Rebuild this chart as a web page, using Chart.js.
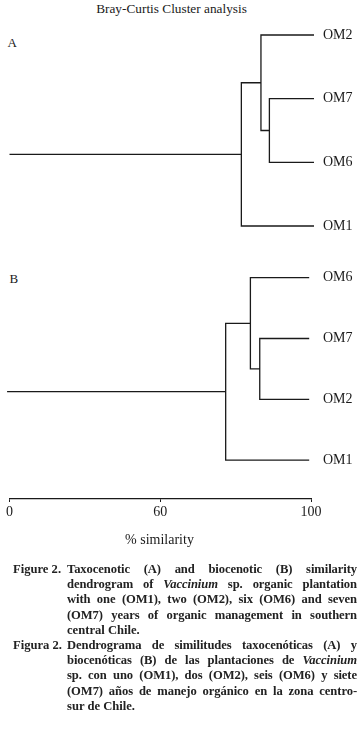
<!DOCTYPE html>
<html>
<head>
<meta charset="utf-8">
<script src="https://cdn.jsdelivr.net/npm/chart.js@4.4.0/dist/chart.umd.min.js"></script>
<style>
  html, body { margin: 0; padding: 0; background: #fff; }
  body { width: 360px; height: 729px; position: relative; overflow: hidden;
         font-family: "Liberation Serif", "DejaVu Serif", serif; color: #1a1a1a; }
  .abs { position: absolute; }
  #title { left: 0; width: 343px; top: 1px; text-align: center; font-size: 13.3px; line-height: 16px; }
  .panel { font-size: 13px; line-height: 16px; }
  #xtitle { left: 0; width: 319px; top: 531px; text-align: center; font-size: 14px; line-height: 17px; }
  #canvasA { left: 0; top: 0; }
  #canvasB { left: 0; top: 240px; }
  #caption { left: 0; top: 562px; width: 360px; font-weight: bold; font-size: 12.6px; line-height: 15.2px; color: #222; }
  .para { position: relative; padding-left: 67px; width: 290px; }
  .para .lab { position: absolute; left: 13px; top: 0; }
  .ln { text-align: justify; text-align-last: justify; white-space: normal; }
  .ln.last { text-align-last: left; }
</style>
</head>
<body>
<div id="title" class="abs">Bray-Curtis Cluster analysis</div>
<div class="abs panel" style="left:7.5px; top:35px;">A</div>
<div class="abs panel" style="left:9.5px; top:271px;">B</div>
<canvas id="canvasA" class="abs" width="360" height="250"></canvas>
<canvas id="canvasB" class="abs" width="360" height="290"></canvas>
<div id="xtitle" class="abs"></div>

<div id="caption" class="abs">
  <div class="para">
    <span class="lab">Figure 2.</span>
    <div class="ln">Taxocenotic (A) and biocenotic (B) similarity</div>
    <div class="ln">dendrogram of <i>Vaccinium</i> sp. organic plantation</div>
    <div class="ln">with one (OM1), two (OM2), six (OM6) and seven</div>
    <div class="ln">(OM7) years of organic management in southern</div>
    <div class="ln last">central Chile.</div>
  </div>
  <div class="para">
    <span class="lab">Figura 2.</span>
    <div class="ln">Dendrograma de similitudes taxocenóticas (A) y</div>
    <div class="ln">biocenóticas (B) de las plantaciones de <i>Vaccinium</i></div>
    <div class="ln">sp. con uno (OM1), dos (OM2), seis (OM6) y siete</div>
    <div class="ln">(OM7) años de manejo orgánico en la zona centro-</div>
    <div class="ln last">sur de Chile.</div>
  </div>
</div>

<script>
// Panel A (taxocenotic) - leaves listed top to bottom
const leavesA = ['OM2', 'OM7', 'OM6', 'OM1'];
// merges: [child, child, similarity]; leaves are 0..3, new clusters get 4, 5, ...
const mergesA = [[1, 2, 86.2], [0, 4, 83.4], [5, 3, 76.9]];
const leafEndA = 101;
const rootStartA = 0;

// Panel B (biocenotic)
const leavesB = ['OM6', 'OM7', 'OM2', 'OM1'];
const mergesB = [[1, 2, 83.0], [0, 4, 79.9], [5, 3, 71.7]];
const leafEndB = 99.4;
const rootStartB = -0.8;

// similarity axis
const tickValues = [0, 50, 100];
const tickLabels = ['0', '60', '100'];
const axisTitle = '% similarity';

const ink = '#1a1a1a';
const serif = '"Liberation Serif", serif';

document.getElementById('xtitle').textContent = axisTitle;

// squeeze any caption line that is wider than its column
document.querySelectorAll('#caption .ln').forEach(function(ln) {
    const probe = document.createElement('span');
    probe.style.whiteSpace = 'nowrap';
    probe.innerHTML = ln.innerHTML.trim();
    ln.innerHTML = '';
    ln.appendChild(probe);
    const w = probe.getBoundingClientRect().width;
    const room = ln.clientWidth;
    const n = probe.textContent.length;
    ln.innerHTML = probe.innerHTML;
    if (w > room - 2) {
        ln.style.letterSpacing = ((room - 4 - w) / n) + 'px';
    }
});

/**
 * Turn a merge list into one polyline per merge (gaps between them)
 */
function dendroPoints(leaves, merges, leafEnd, rootStart) {
    const nodes = leaves.map((name, i) => ({ x: leafEnd, y: i }));
    const pts = [];
    merges.forEach(([a, b, h]) => {
        const na = nodes[a], nb = nodes[b];
        pts.push({ x: na.x, y: na.y }, { x: h, y: na.y }, { x: h, y: nb.y }, { x: nb.x, y: nb.y });
        pts.push({ x: h, y: null });
        nodes.push({ x: h, y: (na.y + nb.y) / 2 });
    });
    const root = nodes[nodes.length - 1];
    pts.push({ x: rootStart, y: root.y }, { x: root.x, y: root.y });
    return pts;
}

function makeChart(id, leaves, merges, leafEnd, rootStart, opts) {
    return new Chart(document.getElementById(id), {
        type: 'scatter',
        data: {
            datasets: [{
                data: dendroPoints(leaves, merges, leafEnd, rootStart),
                showLine: true,
                spanGaps: false,
                borderColor: ink,
                borderWidth: 1.3,
                pointRadius: 0,
                pointHoverRadius: 0,
                tension: 0,
                clip: false
            }]
        },
        options: {
            responsive: false,
            animation: false,
            events: [],
            layout: { padding: opts.padding },
            plugins: { legend: { display: false }, tooltip: { enabled: false } },
            scales: {
                x: opts.x,
                y: {
                    type: 'linear',
                    position: 'right',
                    reverse: true,
                    min: 0,
                    max: opts.yMax,
                    grid: { display: false, drawTicks: false },
                    border: { display: false },
                    afterFit: function(scale) { scale.width = 49; },
                    afterBuildTicks: function(scale) {
                        scale.ticks = leaves.map((n, i) => ({ value: i }));
                    },
                    ticks: {
                        padding: 12,
                        color: ink,
                        font: { family: serif, size: 14 },
                        callback: function(value) { return leaves[value]; }
                    }
                }
            }
        }
    });
}

Chart.defaults.font.family = serif;
Chart.defaults.color = ink;

makeChart('canvasA', leavesA, mergesA, leafEndA, rootStartA, {
    padding: { top: 35, left: 9.5, right: 0, bottom: 24 },
    yMax: 3,
    x: { type: 'linear', min: 0, max: 100, display: false }
});

makeChart('canvasB', leavesB, mergesB, leafEndB, rootStartB, {
    padding: { top: 37.7, left: 9.5, right: 0, bottom: 6 },
    yMax: 3.64,
    x: {
        type: 'linear',
        min: 0,
        max: 100,
        grid: { display: true, drawOnChartArea: false, drawTicks: true, tickLength: 3, color: ink, lineWidth: 1 },
        border: { display: true, color: ink, width: 1.3 },
        afterFit: function(scale) { scale.height = 25; },
        afterBuildTicks: function(scale) {
            scale.ticks = tickValues.map(v => ({ value: v }));
        },
        ticks: {
            padding: 2,
            autoSkip: false,
            maxRotation: 0,
            color: ink,
            font: { family: serif, size: 14 },
            callback: function(value) { return tickLabels[tickValues.indexOf(value)]; }
        }
    }
});
</script>
</body>
</html>
